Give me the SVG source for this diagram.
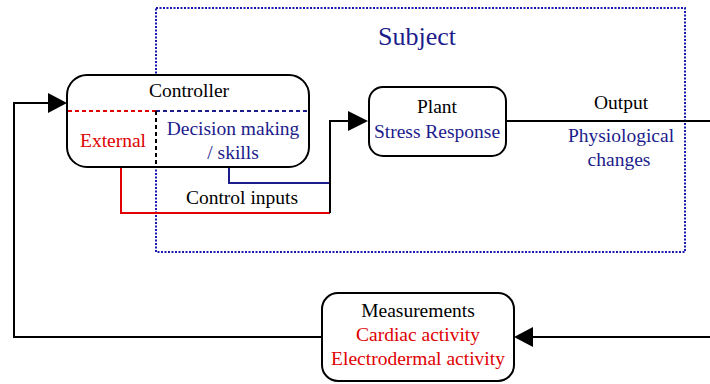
<svg xmlns="http://www.w3.org/2000/svg" width="710" height="384" viewBox="0 0 710 384">
<defs>
<style>
text{font-family:'Liberation Serif','Tinos','Times New Roman','DejaVu Serif',serif;font-size:19.5px;text-anchor:middle;fill:#000}
.navy{fill:#1c1c8c}
.red{fill:#e00000}
.box{fill:#fff;stroke:#000;stroke-width:2}
.ln{fill:none;stroke:#000;stroke-width:2}
</style>
</defs>
<rect x="156" y="8" width="529" height="244" fill="none" stroke="#1a1ab0" stroke-width="2" stroke-dasharray="2,1.5"/>
<text x="417" y="45" class="navy" style="font-size:26px">Subject</text>
<g id="connectors">
<path d="M121,167 V213 H330" fill="none" stroke="#e00000" stroke-width="2"/>
<path d="M229,167 V183 H330" fill="none" stroke="#1c1c8c" stroke-width="2"/>
<path d="M330,213 V121 H350" class="ln"/>
<path d="M348,111 L368,121 L348,131 z" fill="#000"/>
<path d="M506,121 H710" class="ln"/>
<path d="M710,337 H533" class="ln"/>
<path d="M533,327 L514,337 L533,347 z" fill="#000"/>
<path d="M322,337 H14 V103 H50" class="ln"/>
<path d="M48,93 L67,103 L48,113 z" fill="#000"/>
<text x="242" y="204">Control inputs</text>
<text x="621" y="109">Output</text>
<text x="621" y="142" class="navy">Physiological</text>
<text x="619" y="166" class="navy">changes</text>
</g>
<g id="controller">
<rect x="67" y="75" width="242" height="92" rx="20" class="box"/>
<line x1="68" y1="111" x2="156" y2="111" stroke="#e00000" stroke-width="2" stroke-dasharray="4,3"/>
<line x1="156" y1="111" x2="308" y2="111" stroke="#1c1c8c" stroke-width="2" stroke-dasharray="4,3"/>
<line x1="156" y1="111" x2="156" y2="166" stroke="#000" stroke-width="2" stroke-dasharray="4,3"/>
<text x="189" y="97">Controller</text>
<text x="113" y="147" class="red">External</text>
<text x="233" y="135" class="navy">Decision making</text>
<text x="233" y="159" class="navy">/ skills</text>
</g>
<g id="plant">
<rect x="369" y="87" width="137" height="69" rx="14" class="box"/>
<text x="437" y="113">Plant</text>
<text x="437" y="138" class="navy">Stress Response</text>
</g>
<g id="measurements">
<rect x="322" y="293" width="192" height="88" rx="16" class="box"/>
<text x="418" y="317">Measurements</text>
<text x="418" y="341" class="red">Cardiac activity</text>
<text x="418" y="365" class="red">Electrodermal activity</text>
</g>
</svg>
